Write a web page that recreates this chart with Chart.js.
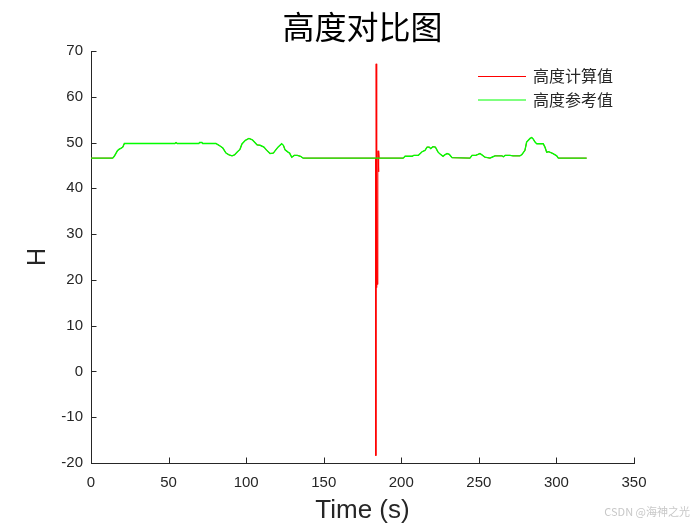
<!DOCTYPE html>
<html>
<head>
<meta charset="utf-8">
<script src="https://cdn.jsdelivr.net/npm/chart.js@4.4.0/dist/chart.umd.min.js"></script>
<style>
html,body{margin:0;padding:0;background:#fff;}
#wrap{width:700px;height:525px;}
</style>
</head>
<body>
<div id="wrap"><canvas id="c" width="700" height="525"></canvas></div>
<script>
// ---- data ----
const refTime = [0,14,15,16,17,18,19.5,20.5,21.5,54,54.8,55.6,69.5,70,71.5,72,80.5,82.5,85,87,89,90.9,92.5,94.1,96,97.3,99.5,101.8,104,107,109,111.5,113,115.4,117.5,120.5,122.9,124,125.1,127,128,129.4,131,133,135,136.7,183.6,201.3,202.4,207,208,211,213.4,215.3,216.6,218,219,220.4,222,223.7,225,226.9,228,229.5,231,232.7,244.3,245.6,248,249.4,250.7,252,253.9,257.2,259.1,260.4,264.9,265.8,266.9,270.1,272,276.5,277.8,279.7,280.8,283,284.1,285,286.2,287.3,291.5,292.6,293.7,295,297.8,300.2,301.2,319.5];
const refH    = [46.6,46.6,47.0,47.6,48.2,48.5,48.8,49.0,49.8,49.8,50.0,49.8,49.8,50.0,50.0,49.8,49.8,49.4,48.8,47.7,47.3,47.1,47.3,47.9,48.5,49.7,50.5,50.9,50.6,49.5,49.4,49.0,48.4,47.6,47.7,49.0,49.75,49.4,48.4,47.9,47.7,46.8,47.2,47.2,47.0,46.6,46.6,46.6,47.0,47.0,47.2,47.2,48.0,48.3,49.0,49.0,48.7,49.1,49.0,47.9,47.5,47.0,47.3,47.6,47.4,46.7,46.6,47.2,47.2,47.4,47.6,47.3,46.8,46.6,46.9,47.1,47.1,46.9,47.2,47.2,47.1,47.1,47.4,48.3,50.1,50.9,51.1,50.8,50.1,49.75,49.75,49.0,47.9,48.0,47.6,47.1,46.6,46.6];

const calcTime = [0,14,15,16,17,18,19.5,20.5,21.5,54,54.8,55.6,69.5,70,71.5,72,80.5,82.5,85,87,89,90.9,92.5,94.1,96,97.3,99.5,101.8,104,107,109,111.5,113,115.4,117.5,120.5,122.9,124,125.1,127,128,129.4,131,133,135,136.7,183.5,183.6,183.8,184.0,184.3,184.6,184.9,185.0,185.3,185.6,185.8,201.3,202.4,207,208,211,213.4,215.3,216.6,218,219,220.4,222,223.7,225,226.9,228,229.5,231,232.7,244.3,245.6,248,249.4,250.7,252,253.9,257.2,259.1,260.4,264.9,265.8,266.9,270.1,272,276.5,277.8,279.7,280.8,283,284.1,285,286.2,287.3,291.5,292.6,293.7,295,297.8,300.2,301.2,319.5];
const calcH    = [46.6,46.6,47.0,47.6,48.2,48.5,48.8,49.0,49.8,49.8,50.0,49.8,49.8,50.0,50.0,49.8,49.8,49.4,48.8,47.7,47.3,47.1,47.3,47.9,48.5,49.7,50.5,50.9,50.6,49.5,49.4,49.0,48.4,47.6,47.7,49.0,49.75,49.4,48.4,47.9,47.7,46.8,47.2,47.2,47.0,46.6,46.6,-18.4,67.2,18.3,46.6,19.0,46.6,48.2,43.6,48.0,46.6,46.6,47.0,47.0,47.2,47.2,48.0,48.3,49.0,49.0,48.7,49.1,49.0,47.9,47.5,47.0,47.3,47.6,47.4,46.7,46.6,47.2,47.2,47.4,47.6,47.3,46.8,46.6,46.9,47.1,47.1,46.9,47.2,47.2,47.1,47.1,47.4,48.3,50.1,50.9,51.1,50.8,50.1,49.75,49.75,49.0,47.9,48.0,47.6,47.1,46.6,46.6];

const xTicks = [0,50,100,150,200,250,300,350];
const yTicks = [-20,-10,0,10,20,30,40,50,60,70];

const titleText = '高度对比图';
const seriesNames = ['高度计算值','高度参考值'];
const xLabel = 'Time (s)';
const yLabel = 'H';
const watermark = 'CSDN @海神之光';

const AXIS = '#262626';
const CJK = '"Noto Sans CJK SC", sans-serif';
const LAT = '"Liberation Sans", Arial, sans-serif';

const toXY = (ts, vs) => ts.map((t, i) => ({x: t, y: vs[i]}));

const decor = {
  id: 'decor',
  afterDraw(chart) {
    const ctx = chart.ctx;
    const a = chart.chartArea;
    const xs = chart.scales.x, ys = chart.scales.y;
    ctx.save();
    // inward ticks
    ctx.strokeStyle = AXIS;
    ctx.lineWidth = 1;
    ctx.beginPath();
    xTicks.forEach(v => {
      const px = Math.round(xs.getPixelForValue(v)) + 0.5;
      ctx.moveTo(px, a.bottom);
      ctx.lineTo(px, a.bottom - 5.5);
    });
    yTicks.forEach(v => {
      const py = Math.round(ys.getPixelForValue(v)) + 0.5;
      ctx.moveTo(a.left, py);
      ctx.lineTo(a.left + 5.5, py);
    });
    ctx.stroke();

    // title
    ctx.fillStyle = '#000';
    ctx.font = '32px ' + CJK;
    ctx.textAlign = 'center';
    ctx.textBaseline = 'middle';
    ctx.fillText(titleText, (a.left + a.right) / 2, 27);

    // axis titles
    ctx.fillStyle = AXIS;
    ctx.font = '26px ' + LAT;
    ctx.fillText(xLabel, (a.left + a.right) / 2, 511);
    ctx.save();
    ctx.translate(38, (a.top + a.bottom) / 2);
    ctx.rotate(-Math.PI / 2);
    ctx.font = '25px ' + LAT;
    ctx.fillText(yLabel, 0, 0);
    ctx.restore();

    // legend
    const colors = ['#ff0000', '#00ff00'];
    const rows = [76, 99.5];
    ctx.textAlign = 'left';
    ctx.font = '16px ' + CJK;
    seriesNames.forEach((n, i) => {
      ctx.strokeStyle = colors[i];
      ctx.lineWidth = 1;
      ctx.beginPath();
      ctx.moveTo(478, rows[i] + 0.5);
      ctx.lineTo(526, rows[i] + 0.5);
      ctx.stroke();
      ctx.fillStyle = '#262626';
      ctx.fillText(n, 533, rows[i]);
    });

    // watermark
    ctx.fillStyle = '#c8c8c8';
    ctx.font = '11px ' + CJK;
    ctx.textAlign = 'right';
    ctx.fillText(watermark, 690, 512);
    ctx.restore();
  }
};

new Chart(document.getElementById('c'), {
  type: 'line',
  data: {
    datasets: [
      {
        label: seriesNames[0],
        data: toXY(calcTime, calcH),
        borderColor: '#ff0000',
        borderWidth: 1,
        pointRadius: 0,
        tension: 0,
        order: 1
      },
      {
        label: seriesNames[1],
        data: toXY(refTime, refH),
        borderColor: '#00ff00',
        borderWidth: 1.4,
        pointRadius: 0,
        tension: 0,
        order: 0
      }
    ]
  },
  options: {
    responsive: false,
    animation: false,
    devicePixelRatio: 1,
    layout: { padding: { top: 51, right: 66, left: 0, bottom: 0 } },
    plugins: {
      legend: { display: false },
      title: { display: false },
      tooltip: { enabled: false }
    },
    scales: {
      x: {
        type: 'linear',
        min: 0, max: 350,
        afterBuildTicks: s => { s.ticks = xTicks.map(v => ({ value: v })); },
        afterFit: s => { s.height = 62; },
        grid: { display: false, drawTicks: false },
        border: { display: true, color: AXIS, width: 1 },
        ticks: { color: AXIS, font: { family: LAT, size: 15 }, padding: 11, maxRotation: 0, autoSkip: false }
      },
      y: {
        type: 'linear',
        min: -20, max: 70,
        afterBuildTicks: s => { s.ticks = yTicks.map(v => ({ value: v })); },
        afterFit: s => { s.width = 91; },
        grid: { display: false, drawTicks: false },
        border: { display: true, color: AXIS, width: 1 },
        ticks: { color: AXIS, font: { family: LAT, size: 15 }, padding: 8, autoSkip: false }
      }
    }
  },
  plugins: [decor]
});
</script>
</body>
</html>
